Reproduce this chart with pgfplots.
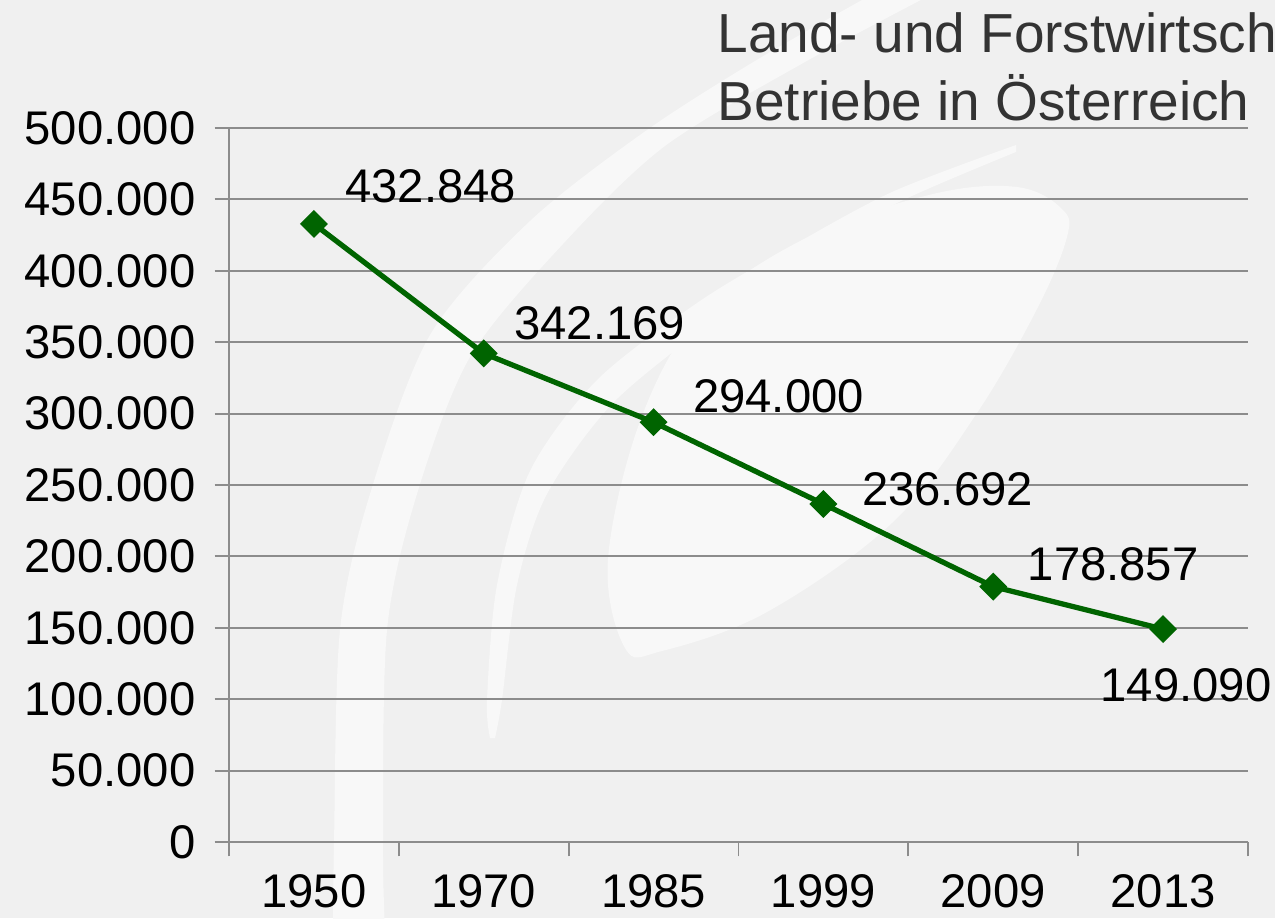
\documentclass[border=0pt]{standalone}
\usepackage{fontspec}
\setmainfont{Liberation Sans}
\usepackage{pgfplots}
\usepackage{pgfplotstable}
\pgfplotsset{compat=1.18}
\definecolor{bg}{HTML}{F0F0F0}
\definecolor{swoosh}{HTML}{F8F8F8}
\definecolor{gridgray}{HTML}{8C8C8C}
\definecolor{linegreen}{HTML}{006400}
\definecolor{titlegray}{HTML}{333333}

% x = category index, dx/dy = label offset in pt
\pgfplotstableread{
x y dx dy
0 432848 10.4 13.7
1 342169 10.1 10.8
2 294000 13.3 9.4
3 236692 13.0 5.4
4 178857 11.5 7.9
5 149090 -23.4 -20.2
}\betriebe

\begin{document}
\begin{tikzpicture}
\path[use as bounding box] (0,0) rectangle (459pt,330.48pt);
\begin{scope}[x=0.36pt,y=-0.36pt,shift={(0pt,330.48pt)}]
  \clip (0,0) rectangle (1275,918);
  \fill[bg] (0,0) rectangle (1275,918);
  % background swoosh
  \fill[swoosh] plot[smooth] coordinates {
      (333,930) (334,843) (340,630) (370,494) (430,335) (530,221) (647,130)
      (760,58) (880,-10)}
    -- plot[smooth] coordinates {
      (940,-10) (805,62) (665,146) (563,244) (470,357) (417,494) (387,630)
      (383,843) (385,930)} -- cycle;
  \fill[swoosh] plot[smooth] coordinates {
      (490,738) (487,700) (497,585) (530,471) (597,380) (697,303) (785,250)
      (892,192) (1016,145)}
    -- plot[smooth] coordinates {
      (1016,152) (895,204) (788,266) (713,321) (613,403) (547,494) (517,585)
      (502,700) (495,738)} -- cycle;
  \fill[swoosh] plot[smooth cycle, tension=0.6] coordinates {
    (625,648) (608,559) (642,416) (704,309) (808,237) (933,194) (1017,187)
    (1062,209) (1067,237) (1037,309) (975,416) (892,523) (767,612) (662,651)};
  \coordinate (ll) at (229,842);
  \node[anchor=base west, inner sep=0pt, titlegray, font=\fontsize{19.8}{24}\selectfont]
    at (717,52) {Land- und Forstwirtschaftliche};
  \node[anchor=base west, inner sep=0pt, titlegray, font=\fontsize{19.8}{24}\selectfont]
    at (717,120) {Betriebe in Österreich};
\end{scope}

\begin{axis}[
    at={(ll)}, anchor=south west,
    scale only axis, width=366.84pt, height=257.04pt,
    xmin=-0.5, xmax=5.5, ymin=0, ymax=500000,
    axis lines*=left,
    axis line style={gridgray, line width=0.7pt},
    xtick={-0.5,0.5,1.5,2.5,3.5,4.5,5.5},
    xticklabels={},
    extra x ticks={0,1,2,3,4,5},
    extra x tick labels={1950,1970,1985,1999,2009,2013},
    extra x tick style={major tick length=0pt, grid=none},
    ytick={0,50000,...,500000},
    scaled y ticks=false,
    ymajorgrids,
    grid style={gridgray, line width=0.7pt},
    tick style={gridgray, line width=0.7pt},
    tick align=outside,
    major tick length=5.2pt,
    tick label style={font=\fontsize{17}{20}\selectfont, black},
    yticklabel style={xshift=-3.4pt},
    xticklabel style={yshift=-8pt},
    /pgf/number format/.cd, fixed, precision=0, 1000 sep={.}, assume math mode=true,
  ]
  \addplot[linegreen, line width=1.9pt, mark=square*, mark size=2.6pt,
    mark options={rotate=45, solid},
    visualization depends on={\thisrow{dx}\as\dx},
    visualization depends on={\thisrow{dy}\as\dy},
    nodes near coords,
    every node near coord/.append style={font=\fontsize{17}{20}\selectfont, black,
      anchor=west, inner sep=0pt, xshift=\dx pt, yshift=\dy pt},
  ] table[x=x, y=y] {\betriebe};
\end{axis}
\end{tikzpicture}
\end{document}
